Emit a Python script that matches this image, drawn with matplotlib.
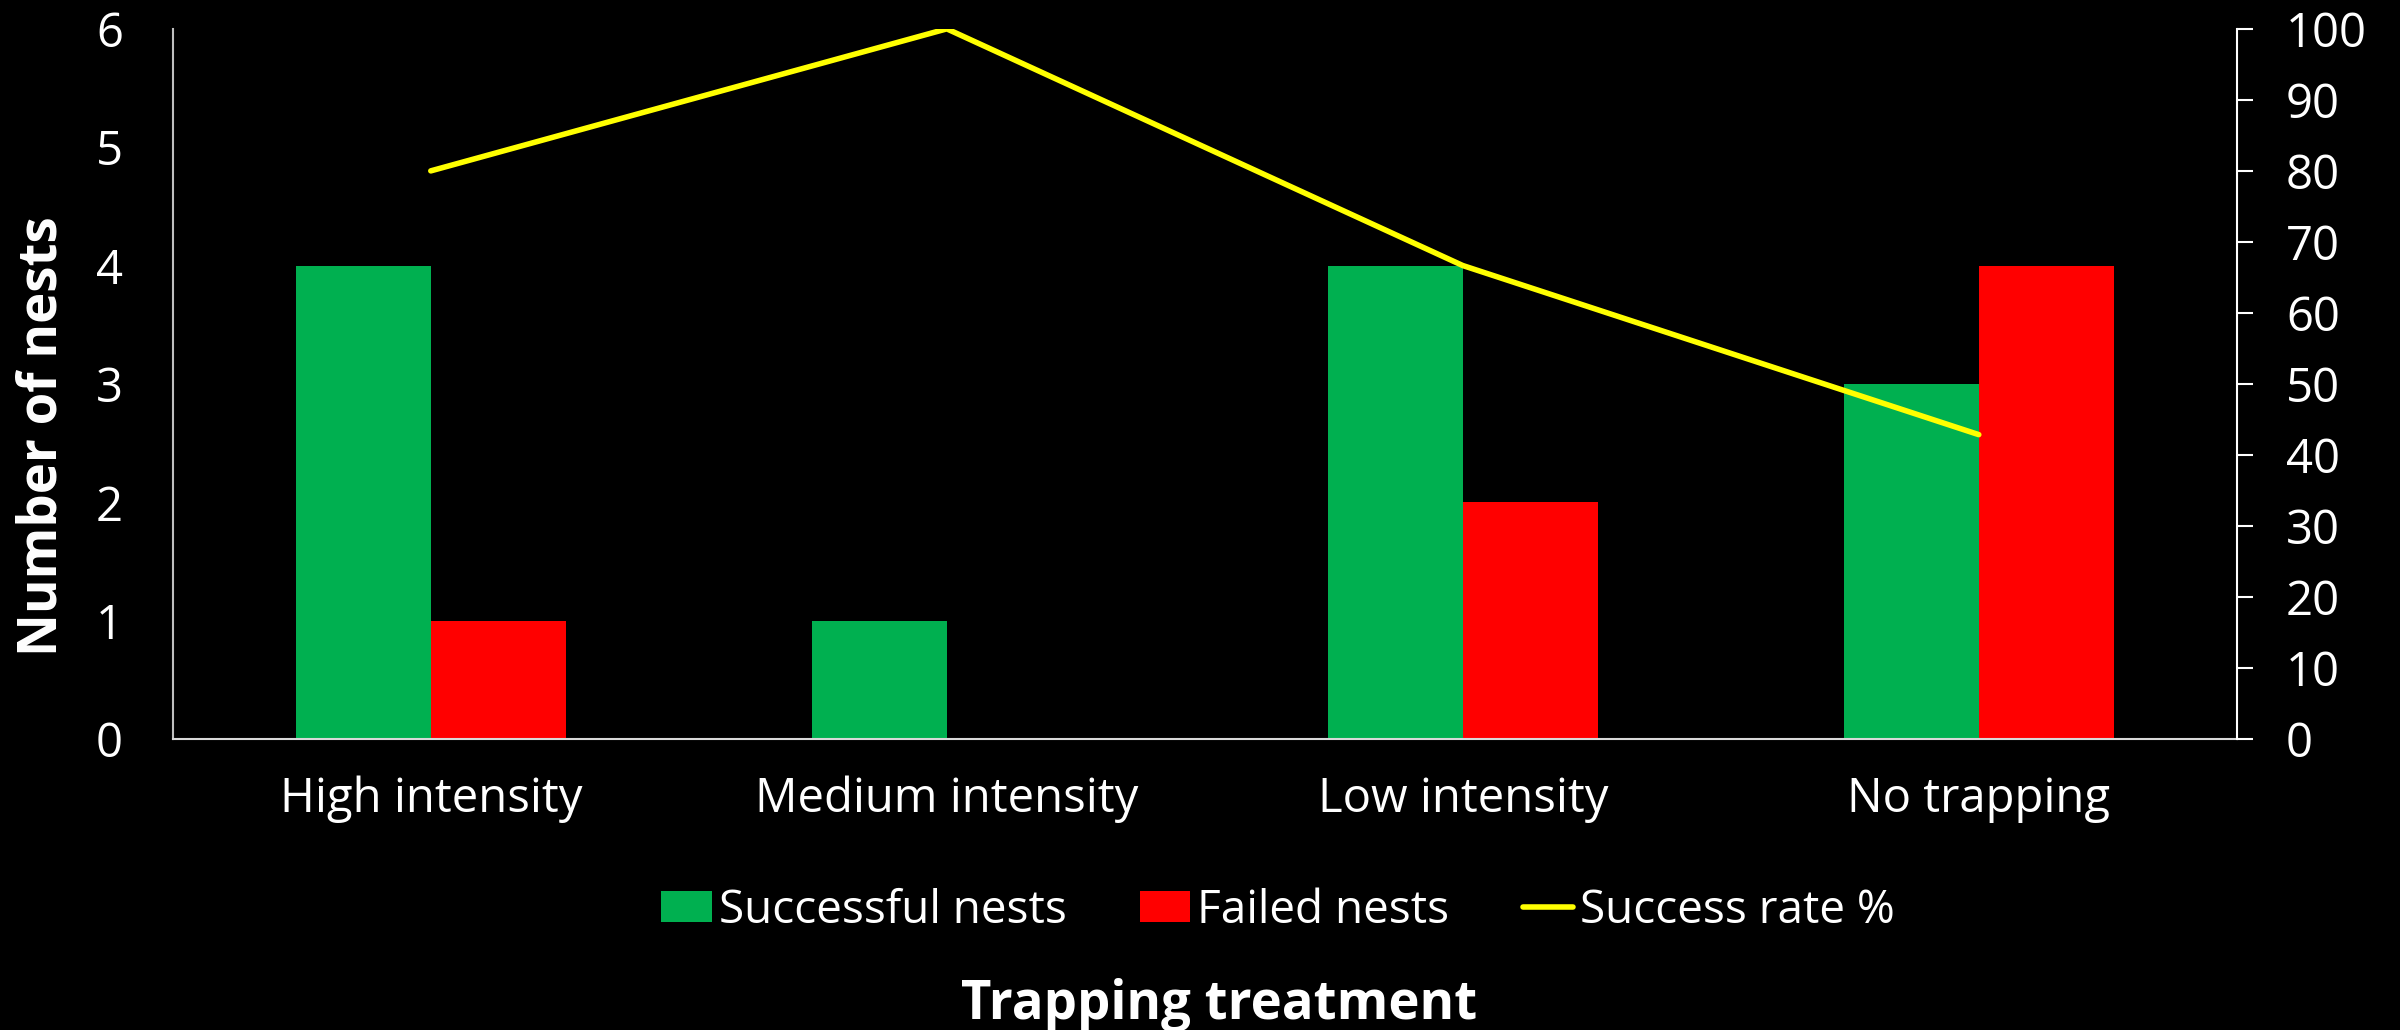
import numpy as np
import matplotlib
matplotlib.use('Agg')
import matplotlib.pyplot as plt

plt.rcParams['font.family'] = ['Open Sans', 'DejaVu Sans']

# 数据
categories = ['High intensity', 'Medium intensity', 'Low intensity', 'No trapping']
successful = [4, 1, 4, 3]
failed = [1, 0, 2, 4]
success_rate = [80, 100, 66.67, 42.86]

GREEN = '#00B050'
RED = '#FF0000'
YELLOW = '#FFFF00'

fig = plt.figure(figsize=(24, 10.3), dpi=100, facecolor='black')
ax = fig.add_axes([0.072, 0.2825, 0.860, 0.6895])
ax.set_facecolor('black')

x = np.arange(len(categories))
w = 0.262
ax.bar(x - w / 2, successful, w, color=GREEN, label='Successful nests')
ax.bar(x + w / 2, failed, w, color=RED, label='Failed nests')

ax.set_xlim(-0.5, len(categories) - 0.5)
ax.set_ylim(0, 6)
ax.set_yticks(range(0, 7))
ax.set_xticks(x)
ax.set_xticklabels(categories)
ax.tick_params(axis='both', length=0, colors='white', labelsize=34)
ax.tick_params(axis='y', pad=36)
ax.tick_params(axis='x', pad=26)
for s in ['top', 'right']:
    ax.spines[s].set_visible(False)
ax.spines['left'].set_color('#bfbfbf')
ax.spines['bottom'].set_color('#d9d9d9')
ax.spines['left'].set_linewidth(1.5)
ax.spines['bottom'].set_linewidth(1.5)

ax2 = ax.twinx()
ax2.plot(x, success_rate, color=YELLOW, linewidth=4, solid_capstyle='round',
         label='Success rate %')
ax2.set_ylim(0, 100)
ax2.set_yticks(range(0, 101, 10))
ax2.tick_params(axis='y', direction='out', length=11.5, width=1.5, colors='white',
                labelsize=34, pad=24)
for s in ['top', 'left', 'bottom']:
    ax2.spines[s].set_visible(False)
ax2.spines['right'].set_color('white')
ax2.spines['right'].set_linewidth(1.5)

ax.set_ylabel('Number of nests', fontsize=38, fontweight='bold', color='white')
ax.yaxis.set_label_coords(-0.050, 0.427)
fig.text(0.508, 0.024, 'Trapping treatment', fontsize=38, fontweight='bold',
         color='white', ha='center', va='center')

h1, l1 = ax.get_legend_handles_labels()
h2, l2 = ax2.get_legend_handles_labels()
leg = fig.legend(h1 + h2, l1 + l2, ncol=3, frameon=False, fontsize=33,
                 loc='center', bbox_to_anchor=(0.5325, 0.116),
                 handlelength=1.1, handleheight=0.65, handletextpad=0.15,
                 columnspacing=1.6, labelcolor='white')

plt.savefig('out.png', dpi=100, facecolor='black')
